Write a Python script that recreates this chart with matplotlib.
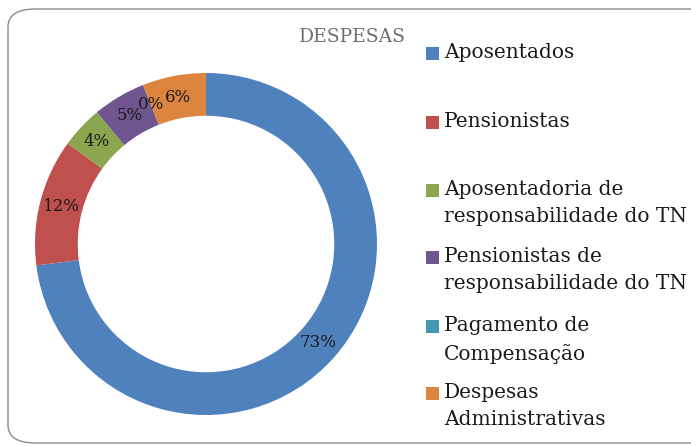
import matplotlib
matplotlib.use("Agg")
import matplotlib.pyplot as plt
from matplotlib.patches import FancyBboxPatch, Rectangle
import numpy as np

categories = ["Aposentados", "Pensionistas",
              "Aposentadoria de\nresponsabilidade do TN",
              "Pensionistas de\nresponsabilidade do TN",
              "Pagamento de\nCompensação",
              "Despesas\nAdministrativas"]
shares = [73, 12, 4, 5, 0, 6]
colors = ['#4F81BD', '#C0504D', '#8BA64F', '#6F5690', '#4198AF', '#DD843F']

W, H = 691, 446
plt.rcParams['font.family'] = ['DejaVu Serif']

fig = plt.figure(figsize=(W / 100, H / 100), dpi=100)

# rounded frame, behind everything
frame = FancyBboxPatch((8 / W, 1 - 443 / H), 720 / W, 434 / H,
                       boxstyle="round,pad=0,rounding_size=0.04",
                       transform=fig.transFigure, facecolor='white',
                       edgecolor='#8c8c8c', linewidth=1.0, zorder=-5)
fig.patches.append(frame)

# donut: centre (206, 244), outer radius 171 px
cx, cy, r = 206, 244, 171
ax = fig.add_axes([(cx - r) / W, 1 - (cy + r) / H, 2 * r / W, 2 * r / H])
ax.set_facecolor('none')
ax.pie(shares, colors=colors, startangle=90, counterclock=False,
       radius=1.0, wedgeprops=dict(width=0.25, edgecolor='none'))
ax.set_xlim(-1, 1)
ax.set_ylim(-1, 1)
ax.set_aspect('equal')
ax.axis('off')

# percentage labels at the middle of the ring
total = sum(shares)
cum = 0
for v in shares:
    mid = (cum + v / 2) / total
    ang = np.deg2rad(90 - 360 * mid)
    ax.text(0.875 * np.cos(ang), 0.875 * np.sin(ang), f"{v}%",
            ha='center', va='center', fontsize=12, color='#1a1a1a')
    cum += v

fig.text(352 / W, 1 - 37 / H, "DESPESAS", ha='center', va='center',
         fontsize=13.5, color='#6e6e6e')

# legend drawn by hand, square aligned with first line
first_rows = [53, 122, 190, 257, 326, 393]
for lab, col, y in zip(categories, colors, first_rows):
    fig.patches.append(Rectangle((426 / W, 1 - (y + 6.5) / H), 13 / W, 13 / H,
                                 transform=fig.transFigure, facecolor=col,
                                 edgecolor='none'))
    fig.text(444 / W, 1 - (y - 10) / H, lab, ha='left', va='top',
             fontsize=14.5, color='#1a1a1a', linespacing=1.55)

fig.savefig("out.png", dpi=100)
